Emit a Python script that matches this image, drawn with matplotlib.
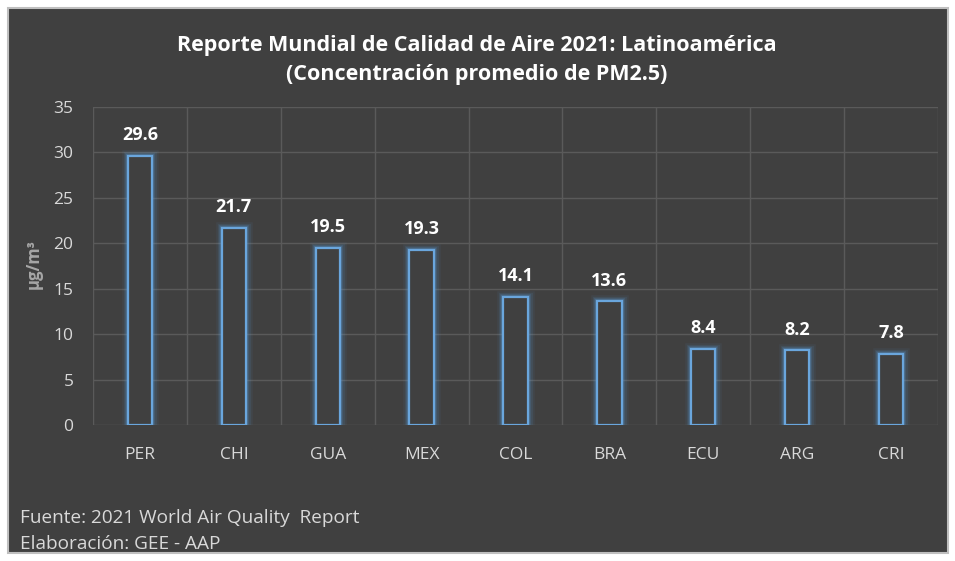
import matplotlib.pyplot as plt
import matplotlib.patches as patches

# data
countries = ['PER', 'CHI', 'GUA', 'MEX', 'COL', 'BRA', 'ECU', 'ARG', 'CRI']
pm25 = [29.6, 21.7, 19.5, 19.3, 14.1, 13.6, 8.4, 8.2, 7.8]
yticks = [0, 5, 10, 15, 20, 25, 30, 35]

bg = '#404040'
txt = '#d9d9d9'
blue = '#5b9bd5'
font = 'Open Sans'

fig = plt.figure(figsize=(9.55, 5.61), dpi=100, facecolor='white')
# dark chart frame with light border
frame = patches.Rectangle((8 / 955, 8 / 561), 940 / 955, 545 / 561,
                          transform=fig.transFigure, facecolor=bg,
                          edgecolor='#bfbfbf', linewidth=1.5, zorder=-5)
fig.patches.append(frame)

ax = fig.add_axes([93 / 955, 1 - 425 / 561, 845 / 955, 318 / 561], zorder=2)
ax.set_facecolor('none')
x = range(len(countries))
ax.set_xlim(-0.5, len(countries) - 0.5)
ax.set_ylim(0, 35)

# grid
for y in yticks:
    ax.axhline(y, color='#5a5a5a', lw=1, zorder=1)
for i in range(len(countries) + 1):
    ax.axvline(i - 0.5, color='#5a5a5a', lw=1, zorder=1)

# glow layers then the bar outline
for lw, a in [(9, 0.07), (6.5, 0.1), (4.5, 0.16), (3, 0.25)]:
    ax.bar(x, pm25, width=0.26, fill=False, edgecolor=blue, linewidth=lw,
           alpha=a, zorder=2)
ax.bar(x, pm25, width=0.26, facecolor=bg, edgecolor='#6aa6dd', linewidth=1.6,
       zorder=3)

for i, v in enumerate(pm25):
    ax.text(i, v + 1.3, f'{v:.1f}', ha='center', va='bottom', color='white',
            fontsize=13, fontweight='bold', family=font)

ax.set_xticks(list(x))
ax.set_xticklabels(countries, family=font, fontsize=12.5, color=txt)
ax.set_yticks(yticks)
ax.set_yticklabels([str(t) for t in yticks], family=font, fontsize=12.5, color=txt)
ax.tick_params(length=0)
ax.tick_params(axis='x', pad=16)
ax.tick_params(axis='y', pad=14)
for s in ax.spines.values():
    s.set_visible(False)

fig.text(34 / 955, 1 - 264 / 561, 'µg/m³', rotation=90, ha='center',
         va='center', color='#a6a6a6', fontsize=12, fontweight='bold', family=font)

fig.text(477 / 955, 1 - 60 / 561,
         'Reporte Mundial de Calidad de Aire 2021: Latinoamérica\n(Concentración promedio de PM2.5)',
         ha='center', va='center', color='white', fontsize=15.5, fontweight='bold',
         family=font, linespacing=1.5)

fig.text(20 / 955, 1 - 518 / 561, 'Fuente: 2021 World Air Quality  Report',
         ha='left', va='center', color=txt, fontsize=13.7, family=font)
fig.text(20 / 955, 1 - 544 / 561, 'Elaboración: GEE - AAP',
         ha='left', va='center', color=txt, fontsize=13.7, family=font)

fig.savefig('out.png', dpi=100, facecolor='white')
